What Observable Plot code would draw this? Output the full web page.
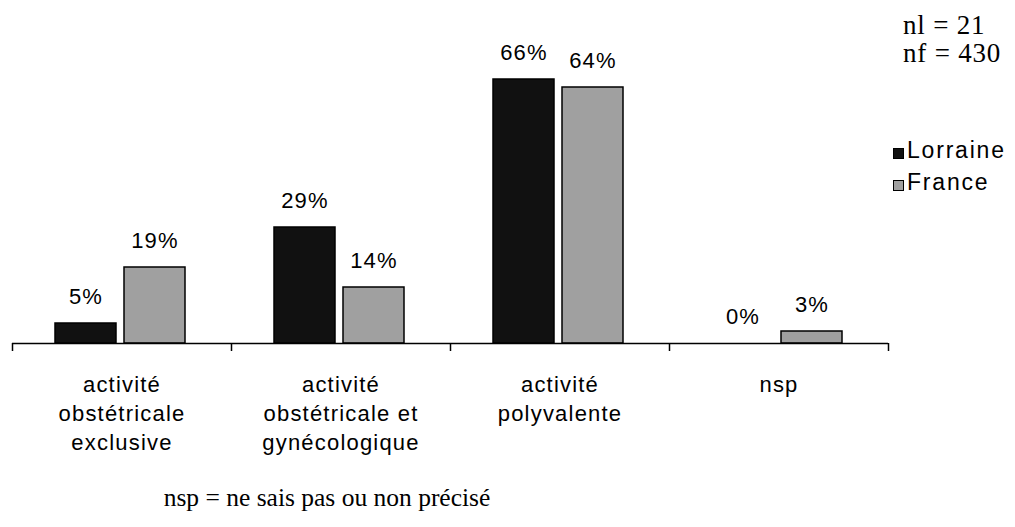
<!DOCTYPE html>
<html>
<head>
<meta charset="utf-8">
<script src="https://cdn.jsdelivr.net/npm/d3@7"></script>
<script src="https://cdn.jsdelivr.net/npm/@observablehq/plot@0.6"></script>
<style>
  body { margin: 0; background: #fff; }
  #wrap { position: relative; width: 1015px; height: 527px; overflow: hidden; }
  #wrap svg text { letter-spacing: 1.2px; }
  .ann { position: absolute; line-height: 1; white-space: nowrap; color: #000; }
  .serif { font-family: "Liberation Serif", "Times New Roman", serif; }
  .sans { font-family: "Liberation Sans", Arial, sans-serif; font-size: 23px; letter-spacing: 1.8px; }
  .sw { position: absolute; width: 9px; height: 9px; border: 1px solid #000; box-sizing: content-box; }
</style>
</head>
<body>
<div id="wrap"></div>
<script>
// ---- data ----
const categories = [
  "activité obstétricale exclusive",
  "activité obstétricale et gynécologique",
  "activité polyvalente",
  "nsp"
];
const tickLabels = [
  "activité\nobstétricale\nexclusive",
  "activité\nobstétricale et\ngynécologique",
  "activité\npolyvalente",
  "nsp"
];
const series = ["Lorraine", "France"];
const lorraine = [5, 29, 66, 0];
const france = [19, 14, 64, 3];
const seriesColors = ["#111111", "#a0a0a0"];
const sampleSizes = ["nl = 21", "nf = 430"];
const footnote = "nsp = ne sais pas ou non précisé";

const lorraineData = categories.map((c, i) => ({cat: c, series: series[0], value: lorraine[i]}));
const franceData = categories.map((c, i) => ({cat: c, series: series[1], value: france[i]}));

const textStyle = {fontSize: 22, fill: "#000"};

const chart = Plot.plot({
  width: 1015,
  height: 527,
  marginLeft: 12,
  marginRight: 127,
  marginTop: 23,
  marginBottom: 184,
  x: {type: "band", domain: categories, padding: 0, axis: null},
  y: {domain: [0, 80], axis: null},
  style: {fontFamily: "'Liberation Sans', Arial, sans-serif", fontSize: "22px", background: "white", color: "black"},
  marks: [
    Plot.barY(lorraineData, {x: "cat", y: "value", fill: seriesColors[0], stroke: "#000", strokeWidth: 1.5, insetLeft: 43, insetRight: 115}),
    Plot.barY(franceData, {x: "cat", y: "value", fill: seriesColors[1], stroke: "#000", strokeWidth: 1.5, insetLeft: 112, insetRight: 46}),
    Plot.text(lorraineData, {x: "cat", y: "value", text: d => d.value + "%", dx: -36, dy: -20, lineAnchor: "bottom", ...textStyle}),
    Plot.text(franceData, {x: "cat", y: "value", text: d => d.value + "%", dx: 33, dy: -20, lineAnchor: "bottom", ...textStyle}),
    Plot.ruleY([0], {stroke: "#000", strokeWidth: 1.5}),
    Plot.ruleX(categories, {x: d => d, y1: 0, y2: 2, dx: -109.5, dy: 8, stroke: "#000", strokeWidth: 1.5}),
    Plot.ruleX(categories.slice(-1), {x: d => d, y1: 0, y2: 2, dx: 109.5, dy: 8, stroke: "#000", strokeWidth: 1.5}),
    Plot.text(categories, {x: d => d, y: d => 0, text: (d, i) => tickLabels[i], lineAnchor: "top", dy: 28, lineHeight: 1.32, ...textStyle})
  ]
});
const wrap = document.getElementById("wrap");
wrap.appendChild(chart);

// annotations: sample sizes
sampleSizes.forEach((t, i) => {
  const d = document.createElement("div");
  d.className = "ann serif";
  d.style.fontSize = "27px";
  d.style.letterSpacing = "0.8px";
  d.style.left = "903px";
  d.style.top = (12.4 + i * 28) + "px";
  d.textContent = t;
  wrap.appendChild(d);
});

// legend
series.forEach((s, i) => {
  const sw = document.createElement("div");
  sw.className = "sw";
  sw.style.left = "893px";
  sw.style.top = (148 + i * 32) + "px";
  sw.style.background = seriesColors[i];
  wrap.appendChild(sw);
  const d = document.createElement("div");
  d.className = "ann sans";
  d.style.left = "907px";
  d.style.top = (138.5 + i * 32) + "px";
  d.textContent = s;
  wrap.appendChild(d);
});

// footnote
const fn = document.createElement("div");
fn.className = "ann serif";
fn.style.fontSize = "25.5px";
fn.style.left = "0px";
fn.style.width = "654px";
fn.style.textAlign = "center";
fn.style.top = "484.6px";
fn.textContent = footnote;
wrap.appendChild(fn);
</script>
</body>
</html>
